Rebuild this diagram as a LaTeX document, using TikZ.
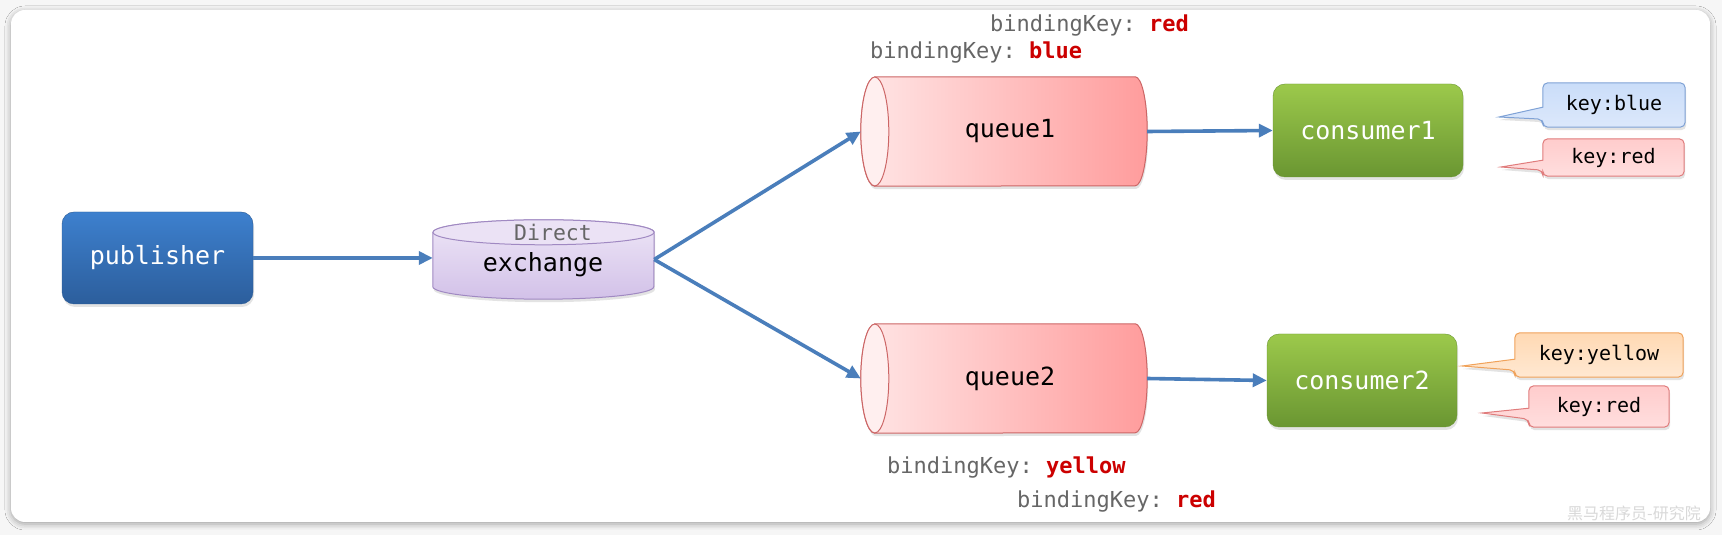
\documentclass[tikz,border=0pt]{standalone}
\usepackage{fontspec}
\setmonofont{DejaVu Sans Mono}
\newfontfamily\cjkfont{Noto Sans CJK SC}
\usetikzlibrary{calc,shadows,shadows.blur,arrows.meta}
\definecolor{bgcol}{HTML}{F6F6F6}
\definecolor{pubtop}{HTML}{3D80CE}
\definecolor{pubbot}{HTML}{2C5E9C}
\definecolor{pubborder}{HTML}{2A5A94}
\definecolor{contop}{HTML}{9CC94B}
\definecolor{conbot}{HTML}{6A9632}
\definecolor{conborder}{HTML}{6A9632}
\definecolor{extop}{HTML}{EEE6F7}
\definecolor{exbot}{HTML}{D2C1E8}
\definecolor{exborder}{HTML}{A089C2}
\definecolor{exface}{HTML}{EBE2F5}
\definecolor{qleft}{HTML}{FFE6E6}
\definecolor{qright}{HTML}{FF9C9C}
\definecolor{qface}{HTML}{FFEFEF}
\definecolor{qborder}{HTML}{CC6666}
\definecolor{arrowcol}{HTML}{4A7EBB}
\definecolor{keygray}{HTML}{666666}
\definecolor{keyred}{HTML}{CC0000}
\definecolor{cbtop}{HTML}{CADDF9}
\definecolor{cbbot}{HTML}{DCE8FB}
\definecolor{cbborder}{HTML}{7FA2D6}
\definecolor{crtop}{HTML}{FFCCCC}
\definecolor{crbot}{HTML}{FFDEDE}
\definecolor{crborder}{HTML}{E07C7C}
\definecolor{cytop}{HTML}{FFD9B3}
\definecolor{cybot}{HTML}{FFE8D2}
\definecolor{cyborder}{HTML}{F0A25A}
\definecolor{wmark}{HTML}{D9D9D9}
\newcommand\calloutshape[5]{%
  \draw[#5] ([yshift=#3]#1.south west) [rounded corners=5pt] -- (#1.north west) -- (#1.north east) -- (#1.south east) -- (#1.south west) -- ([yshift=#4]#1.south west) [sharp corners] -- (#2) -- cycle;}
\begin{document}
\begin{tikzpicture}[x=1pt,y=1pt,
  shad/.style={drop shadow={shadow xshift=1pt,shadow yshift=-3pt,opacity=0.22}},
  box/.style={rounded corners=12pt, minimum width=191pt, minimum height=92pt, inner sep=0pt,
    font=\ttfamily\fontsize{25}{30}\selectfont, text=white, shad},
  pubbox/.style={box, top color=pubtop, bottom color=pubbot, draw=pubborder},
  conbox/.style={box, top color=contop, bottom color=conbot, draw=conborder, minimum width=190pt, minimum height=93pt},
  ghost/.style={inner sep=0pt, draw=none},
  dtext/.style={inner sep=0pt, font=\ttfamily\fontsize{25}{30}\selectfont, text=black},
  flow/.style={draw=arrowcol, line width=3.6pt, -{Triangle[length=14pt,width=13pt]}},
  bk/.style={anchor=west, inner sep=0pt, font=\ttfamily\fontsize{22}{26}\selectfont, text=keygray},
  callbox/.style={inner sep=0pt, font=\ttfamily\fontsize{20}{24}\selectfont, text=black},
  cblue/.style={top color=cbtop, bottom color=cbbot, draw=cbborder, line width=1pt, shad},
  cred/.style={top color=crtop, bottom color=crbot, draw=crborder, line width=1pt, shad},
  cyel/.style={top color=cytop, bottom color=cybot, draw=cyborder, line width=1pt, shad},
  qshape/.style={left color=qleft, right color=qright, draw=qborder, line width=1pt, shad},
]
\useasboundingbox (0,0) rectangle (1722,535);
\fill[bgcol] (0,0) rectangle (1722,535);
\node[fill=white, rounded corners=14pt, minimum width=1699pt, minimum height=512pt, inner sep=0pt,
  blur shadow={shadow xshift=0pt, shadow yshift=-2pt, shadow blur radius=6pt, shadow opacity=35}] (frame) at (860.5,269) {};

% watermark
\node[text=wmark, inner sep=0pt, font=\cjkfont\fontsize{16}{18}\selectfont] (wm) at (1634,22) {黑马程序员-研究院};

% publisher
\node[pubbox] (pub) at (157.5,277) {publisher};

% exchange
\node[ghost, minimum width=221pt, minimum height=79pt] (ex) at (543.5,275.5) {};
\draw[top color=extop, bottom color=exbot, draw=exborder, line width=1pt, shad]
  ([yshift=-12.5pt]ex.north west) -- ([yshift=12.5pt]ex.south west)
  arc[start angle=180, end angle=360, x radius=110.5pt, y radius=12.5pt]
  -- ([yshift=-12.5pt]ex.north east)
  arc[start angle=0, end angle=180, x radius=110.5pt, y radius=12.5pt] -- cycle;
\filldraw[fill=exface, draw=exborder, line width=1pt] ([yshift=-12.5pt]ex.north) ellipse[x radius=110.5pt, y radius=12.5pt];
\node[inner sep=0pt, font=\ttfamily\fontsize{21.5}{26}\selectfont, text=keygray] (exd) at (553,303) {Direct};
\node[dtext] (ext) at (543,270) {exchange};

% queues
\node[ghost, minimum width=286pt, minimum height=109pt] (q1) at (1004,403.5) {};
\node[ghost, minimum width=286pt, minimum height=109pt] (q2) at (1004,156.5) {};
\foreach \q in {q1,q2}{
  \draw[qshape] ([xshift=14pt]\q.north west) -- ([xshift=-12pt]\q.north east)
    arc[start angle=90, end angle=-90, x radius=12pt, y radius=54.5pt]
    -- ([xshift=14pt]\q.south west)
    arc[start angle=270, end angle=90, x radius=14pt, y radius=54.5pt] -- cycle;
  \filldraw[fill=qface, draw=qborder, line width=1pt] ([xshift=14pt]\q.west) ellipse[x radius=14pt, y radius=54.5pt];
}
\node[dtext] (q1t) at ([xshift=6pt]q1.center) {queue1};
\node[dtext] (q2t) at ([xshift=6pt]q2.center) {queue2};

% consumers
\node[conbox] (c1) at (1368,404.5) {consumer1};
\node[conbox] (c2) at (1362,154.5) {consumer2};

% connectors
\draw[flow] (pub.east) -- (pub.east -| ex.west);
\draw[flow] (ex.east) -- (q1.west);
\draw[flow] (ex.east) -- (q2.west);
\draw[flow] (q1.east) -- (c1.west);
\draw[flow] (q2.east) -- (c2.west);

% binding keys
\node[bk] (bk1) at (990,509) {bindingKey: \textbf{\textcolor{keyred}{red}}};
\node[bk] (bk2) at (870,482) {bindingKey: \textbf{\textcolor{keyred}{blue}}};
\node[bk] (bk3) at (887,67) {bindingKey: \textbf{\textcolor{keyred}{yellow}}};
\node[bk] (bk4) at (1017,33) {bindingKey: \textbf{\textcolor{keyred}{red}}};

% callouts
\node[ghost, minimum width=142pt, minimum height=44pt] (cb) at (1614,430) {};
\node[ghost, minimum width=141pt, minimum height=37pt] (cr1) at (1613.5,377.5) {};
\node[ghost, minimum width=168pt, minimum height=44pt] (cy) at (1599,180) {};
\node[ghost, minimum width=140pt, minimum height=41pt] (cr2) at (1599,128.5) {};
\coordinate (tb) at (1499,418);
\coordinate (tr1) at (1501,368);
\coordinate (ty) at (1462,169);
\coordinate (tr2) at (1482,122);
\calloutshape{cb}{tb}{20pt}{8pt}{cblue}
\calloutshape{cr1}{tr1}{16pt}{6pt}{cred}
\calloutshape{cy}{ty}{18pt}{7pt}{cyel}
\calloutshape{cr2}{tr2}{19pt}{8pt}{cred}
\node[callbox] (cbt) at (cb.center) {key:blue};
\node[callbox] (cr1t) at (cr1.center) {key:red};
\node[callbox] (cyt) at (cy.center) {key:yellow};
\node[callbox] (cr2t) at (cr2.center) {key:red};
\end{tikzpicture}
\end{document}
